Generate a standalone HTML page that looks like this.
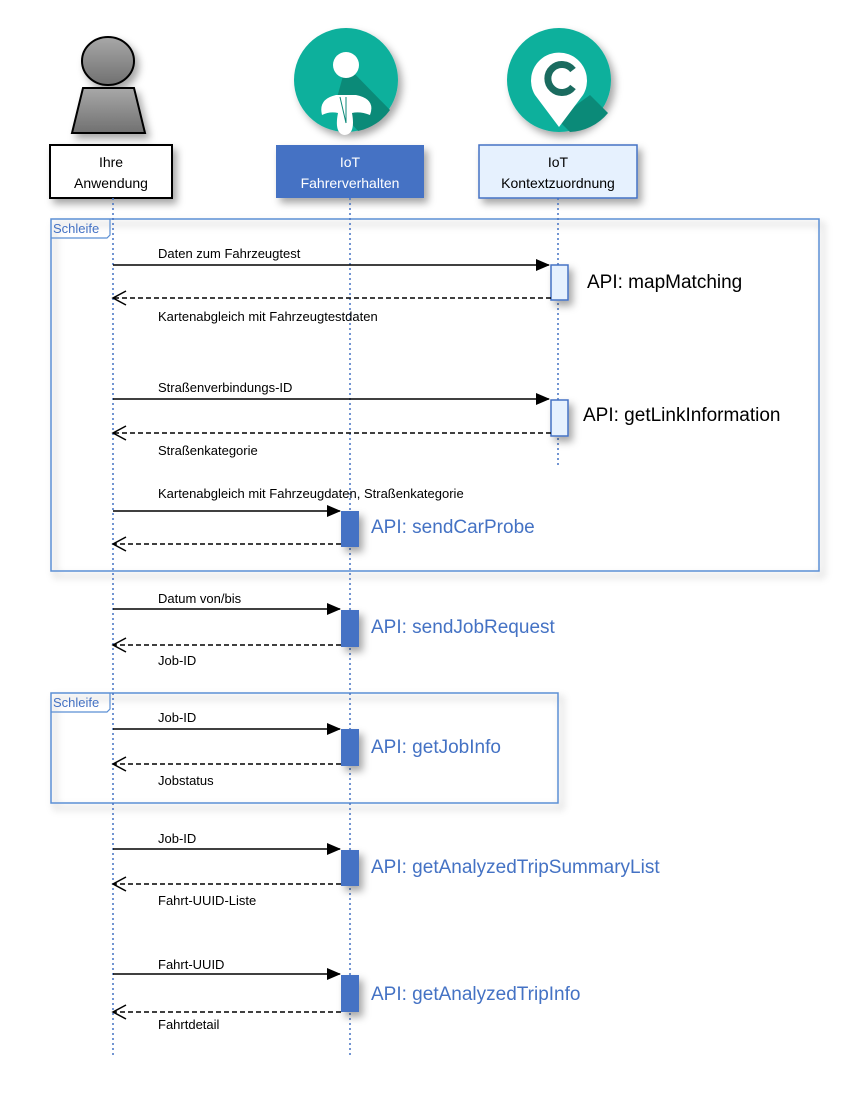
<!DOCTYPE html>
<html><head><meta charset="utf-8"><style>
html,body{margin:0;padding:0;background:#fff}
svg{display:block}
text{font-family:"Liberation Sans",Arial,sans-serif}
</style></head><body>
<svg width="864" height="1098" viewBox="0 0 864 1098" xmlns="http://www.w3.org/2000/svg">
<defs>
<filter id="sh" x="-20%" y="-20%" width="150%" height="150%"><feDropShadow dx="4" dy="5" stdDeviation="4" flood-color="#000" flood-opacity="0.35"/></filter>
<linearGradient id="gg" x1="0" y1="0" x2="0" y2="1"><stop offset="0" stop-color="#a8a8a8"/><stop offset="1" stop-color="#707070"/></linearGradient>
<marker id="af" markerWidth="14" markerHeight="12" refX="13" refY="6" orient="auto" markerUnits="userSpaceOnUse"><path d="M0,0 L14,6 L0,12 Z" fill="#000"/></marker>
<marker id="ao" markerWidth="16" markerHeight="16" refX="14" refY="8" orient="auto" markerUnits="userSpaceOnUse"><path d="M1,1 L14,8 L1,15" fill="none" stroke="#000" stroke-width="1.5"/></marker>
</defs>

<!-- actor -->
<g filter="url(#sh)">
<ellipse cx="108" cy="61" rx="26" ry="24" fill="url(#gg)" stroke="#000" stroke-width="2"/>
<path d="M83,88 L134,88 L145,133 L72,133 Z" fill="url(#gg)" stroke="#000" stroke-width="2"/>
</g>
<!-- icons -->
<g filter="url(#sh)">
<circle cx="346" cy="80" r="52" fill="#0fb09c"/>
<circle cx="559" cy="80" r="52" fill="#0fb09c"/>
</g>
<path d="M346,65 L390,110 A52,52 0 0 1 358,131 L335,105 Z" fill="#0b8a78"/>
<circle cx="346" cy="65" r="13" fill="#fff"/>
<path d="M322,115 Q318,99 336,95 L356,95 Q376,99 370,115 Q360,111 352,113 Q356,135 344,135 Q334,133 338,113 Q330,111 322,115 Z" fill="#fff"/>
<path d="M340,97 L346,123 M346,97 L346,123" stroke="#0b8a78" stroke-width="1"/>
<path d="M590,95 L608,113 A52,52 0 0 1 570,132 L557,119 Z" fill="#0b8a78"/>
<path d="M559,127 L535,95 A28,28 0 1 1 583,95 Z" fill="#fff"/>
<path d="M573,70 A14,14 0 1 0 573,87" fill="none" stroke="#1a6b5f" stroke-width="7"/>

<!-- boxes -->
<g filter="url(#sh)">
<rect x="50" y="145" width="122" height="53" fill="#fff" stroke="#000" stroke-width="2"/>
<rect x="276" y="145" width="148" height="53" fill="#4472c4"/>
<rect x="479" y="145" width="158" height="53" fill="#e6f1fe" stroke="#4472c4" stroke-width="1.5"/>
</g>
<text x="111" y="167" font-size="14" text-anchor="middle">Ihre</text>
<text x="111" y="188" font-size="14" text-anchor="middle">Anwendung</text>
<text x="350" y="167" font-size="14" text-anchor="middle" fill="#fff">IoT</text>
<text x="350" y="188" font-size="14" text-anchor="middle" fill="#fff">Fahrerverhalten</text>
<text x="558" y="167" font-size="14" text-anchor="middle">IoT</text>
<text x="558" y="188" font-size="14" text-anchor="middle">Kontextzuordnung</text>

<!-- frames -->
<g filter="url(#sh)" fill="none" stroke="#5b8fd4" stroke-width="1.5">
<rect x="51" y="219" width="768" height="352"/>
<rect x="51" y="693" width="507" height="110"/>
</g>
<path d="M51,238 L107,238 L110,235 L110,219" fill="none" stroke="#5b8fd4" stroke-width="1.2"/>
<path d="M51,712 L107,712 L110,709 L110,693" fill="none" stroke="#5b8fd4" stroke-width="1.2"/>
<text x="53" y="233" font-size="13" fill="#4472c4">Schleife</text>
<text x="53" y="707" font-size="13" fill="#4472c4">Schleife</text>

<!-- lifelines -->
<g stroke="#4472c4" stroke-width="1.5" stroke-dasharray="2,3">
<line x1="113" y1="198" x2="113" y2="1055"/>
<line x1="350" y1="198" x2="350" y2="1055"/>
<line x1="558" y1="198" x2="558" y2="465"/>
</g>

<!-- activations -->
<g filter="url(#sh)">
<rect x="551" y="265" width="17" height="35" fill="#e6f1fe" stroke="#4472c4" stroke-width="1.5"/>
<rect x="551" y="400" width="17" height="36" fill="#e6f1fe" stroke="#4472c4" stroke-width="1.5"/>
<rect x="341" y="511" width="18" height="36" fill="#4472c4"/>
<rect x="341" y="610" width="18" height="37" fill="#4472c4"/>
<rect x="341" y="729" width="18" height="37" fill="#4472c4"/>
<rect x="341" y="850" width="18" height="36" fill="#4472c4"/>
<rect x="341" y="975" width="18" height="37" fill="#4472c4"/>
</g>

<!-- messages -->
<g stroke="#000" stroke-width="1.5" fill="none">
<line x1="113" y1="265" x2="549" y2="265" marker-end="url(#af)"/>
<line x1="551" y1="298" x2="113" y2="298" stroke-dasharray="5,3" marker-end="url(#ao)"/>
<line x1="113" y1="399" x2="549" y2="399" marker-end="url(#af)"/>
<line x1="551" y1="433" x2="113" y2="433" stroke-dasharray="5,3" marker-end="url(#ao)"/>
<line x1="113" y1="511" x2="340" y2="511" marker-end="url(#af)"/>
<line x1="341" y1="544" x2="113" y2="544" stroke-dasharray="5,3" marker-end="url(#ao)"/>
<line x1="113" y1="609" x2="340" y2="609" marker-end="url(#af)"/>
<line x1="341" y1="645" x2="113" y2="645" stroke-dasharray="5,3" marker-end="url(#ao)"/>
<line x1="113" y1="729" x2="340" y2="729" marker-end="url(#af)"/>
<line x1="341" y1="764" x2="113" y2="764" stroke-dasharray="5,3" marker-end="url(#ao)"/>
<line x1="113" y1="849" x2="340" y2="849" marker-end="url(#af)"/>
<line x1="341" y1="884" x2="113" y2="884" stroke-dasharray="5,3" marker-end="url(#ao)"/>
<line x1="113" y1="974" x2="340" y2="974" marker-end="url(#af)"/>
<line x1="341" y1="1012" x2="113" y2="1012" stroke-dasharray="5,3" marker-end="url(#ao)"/>
</g>

<g font-size="13">
<text x="158" y="258">Daten zum Fahrzeugtest</text>
<text x="158" y="321">Kartenabgleich mit Fahrzeugtestdaten</text>
<text x="158" y="392">Straßenverbindungs-ID</text>
<text x="158" y="455">Straßenkategorie</text>
<text x="158" y="498">Kartenabgleich mit Fahrzeugdaten, Straßenkategorie</text>
<text x="158" y="603">Datum von/bis</text>
<text x="158" y="665">Job-ID</text>
<text x="158" y="722">Job-ID</text>
<text x="158" y="785">Jobstatus</text>
<text x="158" y="843">Job-ID</text>
<text x="158" y="905">Fahrt-UUID-Liste</text>
<text x="158" y="969">Fahrt-UUID</text>
<text x="158" y="1029">Fahrtdetail</text>
</g>
<g font-size="19">
<text x="587" y="288">API: mapMatching</text>
<text x="583" y="421">API: getLinkInformation</text>
<g fill="#4472c4">
<text x="371" y="533">API: sendCarProbe</text>
<text x="371" y="633">API: sendJobRequest</text>
<text x="371" y="753">API: getJobInfo</text>
<text x="371" y="873">API: getAnalyzedTripSummaryList</text>
<text x="371" y="1000">API: getAnalyzedTripInfo</text>
</g>
</g>
</svg>
</body></html>
